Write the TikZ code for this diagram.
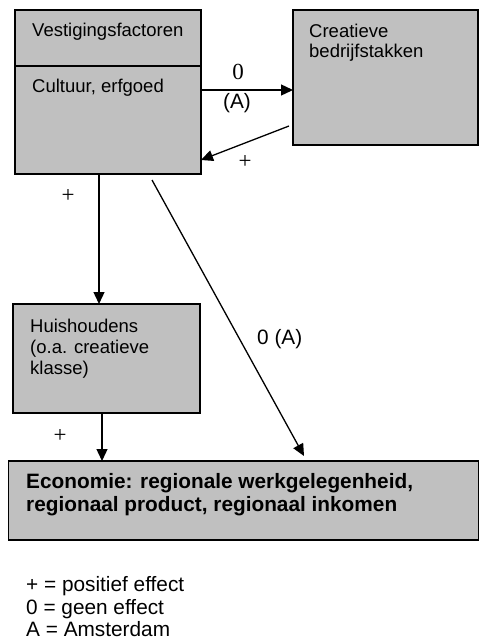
\documentclass[tikz,border=0pt]{standalone}
\usepackage{fontspec}
\setmainfont{Liberation Sans}
\newfontfamily\seriffont{Liberation Serif}
\usetikzlibrary{arrows.meta}
\definecolor{boxgray}{RGB}{192,192,192}
\tikzset{
  box/.style={draw=black, fill=boxgray, line width=1.4pt, inner sep=0pt, outer sep=0pt, anchor=north west},
  boxtxt/.style={anchor=base west, inner sep=0pt, font=\fontsize{18.5}{20.5}\selectfont},
  bigtxt/.style={anchor=base west, inner sep=0pt, font=\fontsize{20.8}{23}\selectfont},
  boldtxt/.style={anchor=base west, inner sep=0pt, font=\fontsize{20.8}{23}\selectfont\bfseries},
  serlab/.style={inner sep=0pt, font=\seriffont\fontsize{23}{25}\selectfont},
  arr/.style={line width=1.3pt, -{Triangle[length=12pt,width=11pt]}}
}
\begin{document}
\begin{tikzpicture}[x=1pt,y=-1pt]
\useasboundingbox (0,0) rectangle (479,640);
% boxes
\node[box, minimum width=186pt, minimum height=164pt] (b1) at (15,10) {};
\node[box, minimum width=185pt, minimum height=135pt] (b2) at (293,10) {};
\node[box, minimum width=187pt, minimum height=109pt] (b3) at (13,304) {};
\node[box, minimum width=470pt, minimum height=79pt] (b4) at (8.5,461) {};
\draw[line width=1.4pt] ([yshift=-56pt]b1.north west) -- ([yshift=-56pt]b1.north east);
% box texts
\node[boxtxt] (t1) at (32,36) {Vestigingsfactoren};
\node[boxtxt] (t2) at (32,92) {Cultuur, erfgoed};
\node[boxtxt] (t3) at (309,37) {Creatieve};
\node[boxtxt] (t4) at (309,57.5) {bedrijfstakken};
\node[boxtxt] (t5) at (30,332) {Huishoudens};
\node[boxtxt] (t6) at (30,353) {(o.a. creatieve};
\node[boxtxt] (t7) at (30,374) {klasse)};
\node[boldtxt] (t8) at (26,488) {Economie: regionale werkgelegenheid,};
\node[boldtxt] (t9) at (26,511) {regionaal product, regionaal inkomen};
% legend
\node[bigtxt] (l1) at (26,591) {+ = positief effect};
\node[bigtxt] (l2) at (26,614) {0 = geen effect};
\node[bigtxt] (l3) at (26,636.5) {A = Amsterdam};
% connectors
\draw[arr] ([yshift=-80pt]b1.north east) -- ([yshift=-80pt]b2.north west);
\draw[arr] ([xshift=-4pt,yshift=-116pt]b2.north west) -- ([yshift=-150pt]b1.north east);
\draw[arr] ([xshift=84pt]b1.south west) -- ([xshift=86pt]b3.north west);
\draw[arr] ([xshift=89pt]b3.south west) -- ([xshift=93.5pt]b4.north west);
\draw[arr] ([xshift=137pt,yshift=-6pt]b1.south west) -- ([xshift=295.5pt,yshift=5pt]b4.north west);
% connector labels
\node[serlab, anchor=base] (c1) at (238,79) {0};
\node[bigtxt, anchor=base] (c2) at (237,108.5) {(A)};
\node[serlab] (c3) at (245,162) {+};
\node[serlab] (c4) at (68,196) {+};
\node[serlab] (c5) at (60,436) {+};
\node[bigtxt] (c6) at (257,344) {0 (A)};
\end{tikzpicture}
\end{document}
